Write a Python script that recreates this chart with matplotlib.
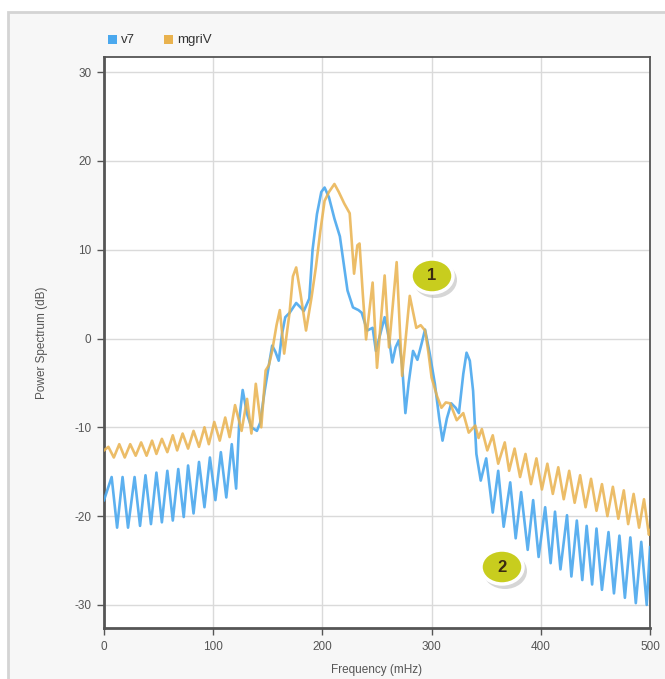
import matplotlib
matplotlib.use("Agg")
import matplotlib.pyplot as plt
from matplotlib.patches import Rectangle, Ellipse

plt.rcParams['font.family'] = ['Liberation Sans', 'DejaVu Sans']
plt.rcParams['axes.unicode_minus'] = False

# ---------------- data ----------------
v7_freq = [0, 7, 12, 17, 22, 28, 33, 38, 43, 48, 53, 58, 63, 68, 73, 77, 82, 87, 92, 97,
           102, 107, 112, 117, 121, 124, 127, 131, 135, 140, 143, 147, 151, 154, 157, 160,
           163, 166, 170, 176, 180, 183, 188, 191, 195, 199, 202, 206, 211, 216, 220, 223,
           228, 233, 236, 241, 246, 249, 253, 257, 261, 264, 267, 270, 273, 276, 279, 283,
           287, 291, 294, 298, 303, 307, 310, 314, 318, 322, 325, 329, 332, 335, 338, 341,
           345, 350, 356, 361, 366, 372, 377, 382, 388, 393, 398, 404, 409, 413, 418, 424,
           428, 433, 438, 442, 447, 451, 456, 462, 467, 472, 477, 482, 487, 492, 497, 500]
v7_db = [-18.2, -15.6, -21.3, -15.6, -21.3, -15.6, -21.1, -15.4, -20.9, -15.1, -20.7, -14.9,
         -20.5, -14.7, -20.1, -14.3, -19.7, -13.9, -19.0, -13.4, -18.2, -12.8, -17.9, -11.9,
         -16.9, -9.0, -5.8, -8.5, -10.0, -10.4, -9.5, -6.0, -3.0, -0.8, -1.5, -2.5,
         0.5, 2.4, 2.9, 4.0, 3.5, 3.1, 4.5, 10.0, 14.0, 16.5, 17.0, 15.9, 13.5, 11.5, 8.0, 5.4,
         3.5, 3.2, 2.9, 0.9, 1.2, -1.4, 0.5, 2.4, 0.0, -2.7, -1.0, -0.2, -3.0, -8.4, -5.0, -1.4,
         -2.4, -0.5, 1.0, -1.5, -5.1, -9.0, -11.5, -9.0, -7.3, -7.8, -8.4, -4.0, -1.6, -2.5, -5.9, -13.0,
         -16.0, -13.5, -19.6, -14.9, -21.2, -16.2, -22.5, -17.3, -23.8, -18.2, -24.6, -19.0, -25.3, -19.5, -26.0, -19.9,
         -26.8, -20.5, -27.2, -21.1, -27.7, -21.4, -28.3, -21.8, -28.7, -22.2, -29.2, -22.4, -29.8, -22.9, -30.0, -23.5]

mgriv_freq = [0, 4, 9, 14, 19, 24, 29, 34, 39, 44, 48, 53, 58, 63, 67, 72, 77, 82, 87, 92,
              96, 101, 106, 111, 115, 120, 126, 131, 135, 139, 144, 148, 151, 154, 158, 161,
              165, 170, 173, 176, 180, 185, 190, 194, 198, 202, 206, 211, 215, 220, 225, 229,
              232, 234, 237, 240, 246, 250, 257, 261, 268, 273, 280, 286, 290, 294, 297, 300,
              305, 309, 313, 317, 323, 329, 334, 340, 343, 346, 351, 356, 361, 367, 371, 376,
              381, 386, 391, 396, 401, 406, 411, 416, 421, 426, 431, 436, 441, 446, 451, 456,
              461, 466, 471, 476, 480, 485, 490, 494.5, 499, 500]
mgriv_db = [-12.6, -12.2, -13.4, -11.9, -13.4, -11.9, -13.2, -11.7, -13.2, -11.5, -13.0, -11.3,
            -12.8, -10.9, -12.6, -10.7, -12.4, -10.4, -12.2, -10.0, -11.9, -9.4, -11.5, -8.9,
            -11.1, -7.5, -10.4, -6.8, -10.7, -5.1, -10.0, -3.6, -3.0, -1.4, 1.5, 3.2,
            -1.7, 3.0, 7.0, 8.0, 5.0, 0.9, 4.6, 8.0, 12.0, 15.5, 16.5, 17.4, 16.5, 15.2, 14.1, 7.3,
            10.5, 10.7, 5.0, -0.1, 6.3, -3.3, 7.1, -1.0, 8.6, -4.2, 4.8, 1.2, 1.5, 0.9, -1.5, -4.4,
            -6.5, -7.8, -7.2, -7.3, -9.2, -8.4, -10.6, -9.8, -11.2, -10.2, -12.6, -10.9, -14.1, -11.7, -14.9, -12.4,
            -15.6, -13.0, -16.4, -13.5, -17.0, -14.1, -17.5, -14.5, -18.1, -14.9, -18.5, -15.4, -19.0, -15.8, -19.4, -16.4,
            -20.0, -16.7, -20.3, -17.1, -20.9, -17.5, -21.3, -18.1, -22.1, -21.6]

series_names = ["v7", "mgriV"]
series_colors = ["#4aa8ee", "#e9b24e"]
x_ticks = [0, 100, 200, 300, 400, 500]
y_ticks = [-30, -20, -10, 0, 10, 20, 30]
x_label = "Frequency (mHz)"
y_label = "Power Spectrum (dB)"
markers = ["1", "2"]

# ---------------- figure ----------------
W, H = 665, 679
fig = plt.figure(figsize=(W / 100, H / 100), dpi=100, facecolor="white")

# outer panel (background axes behind everything)
bg = fig.add_axes([0, 0, 1, 1], zorder=-10)
bg.set_xlim(0, W)
bg.set_ylim(H, 0)
bg.axis("off")
bg.add_patch(Rectangle((8, 12), W + 20, H + 20, facecolor="#f7f7f7", edgecolor="#d4d4d4", lw=2))

ax_l, ax_r, ax_t, ax_b = 104, 650, 57, 628
ax = fig.add_axes([ax_l / W, 1 - ax_b / H, (ax_r - ax_l) / W, (ax_b - ax_t) / H], zorder=1)
ax.set_facecolor("white")

ax.plot(v7_freq, v7_db, color=series_colors[0], lw=1.9, alpha=0.9, zorder=3,
        solid_joinstyle="round")
ax.plot(mgriv_freq, mgriv_db, color=series_colors[1], lw=1.9, alpha=0.85, zorder=4,
        solid_joinstyle="round")

ax.set_xlim(0, 500)
ax.set_ylim(-32.6, 31.7)
ax.set_xticks(x_ticks)
ax.set_yticks(y_ticks)
ax.grid(True, color="#dadada", lw=1)
ax.set_axisbelow(True)
for s in ax.spines.values():
    s.set_color("#555555")
    s.set_linewidth(1.3)
ax.spines["left"].set_linewidth(2)
ax.spines["bottom"].set_linewidth(2)
ax.tick_params(axis="both", length=5, width=1, color="#555555", labelsize=8.5,
               labelcolor="#555555", pad=4)
ax.set_xlabel(x_label, fontsize=8.5, color="#555555", labelpad=8)
ax.set_ylabel(y_label, fontsize=8.5, color="#555555", labelpad=19)

# legend
bg.add_patch(Rectangle((108, 35), 9, 9, facecolor=series_colors[0], edgecolor="none"))
bg.text(121, 40, series_names[0], fontsize=9.5, color="#333333", va="center")
bg.add_patch(Rectangle((164, 35), 9, 9, facecolor=series_colors[1], edgecolor="none"))
bg.text(177, 40, series_names[1], fontsize=9.5, color="#333333", va="center")

# numbered callouts
aw, ah = (ax_r - ax_l), (ax_b - ax_t)
for label, (cx, cy) in zip(markers, [(432, 276), (502, 567)]):
    fx = (cx - ax_l) / aw
    fy = 1 - (cy - ax_t) / ah
    ax.add_patch(Ellipse((fx + 3 / aw, fy - 4 / ah), 44 / aw, 36 / ah, transform=ax.transAxes,
                         facecolor="#bbbbbb", edgecolor="none", alpha=0.6, zorder=5))
    ax.add_patch(Ellipse((fx, fy), 42 / aw, 34 / ah, transform=ax.transAxes,
                         facecolor="#c8cd1e", edgecolor="white", lw=2.5, zorder=6))
    ax.text(fx, fy, label, transform=ax.transAxes, ha="center", va="center",
            fontsize=12, fontweight="bold", color="#3b2b12", zorder=7)

fig.savefig("out.png", dpi=100, facecolor=fig.get_facecolor())
